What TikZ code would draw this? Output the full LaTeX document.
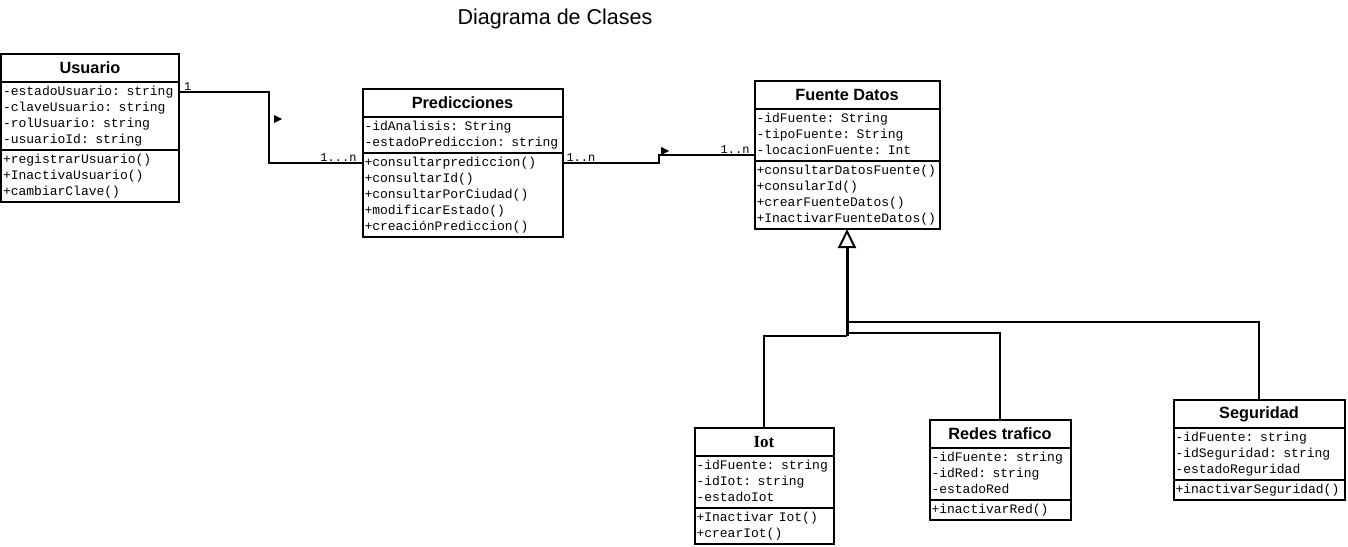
\documentclass[tikz,border=0pt]{standalone}
\usepackage{fontspec}
\setmainfont{Liberation Sans}
\newfontfamily\memberfont{Liberation Mono}
\newfontfamily\serifhead{Liberation Serif}
\usetikzlibrary{positioning,arrows.meta}

\begin{document}
\begin{tikzpicture}[
        x=1pt, y=-1pt,
        head/.style={rectangle, draw, line width=2pt, outer sep=0pt, inner sep=0pt, minimum height=28, font=\fontsize{16.3}{18}\selectfont\bfseries},
        members/.style={rectangle, draw, line width=2pt, outer sep=0pt, inner xsep=2pt, inner ysep=2pt, text width=#1, align=left, font=\memberfont\fontsize{13}{16}\selectfont, execute at begin node=\strut, execute at end node=\strut},
        assoc/.style={line width=2pt},
        gen/.style={line width=2pt},
        mult/.style={font=\memberfont\fontsize{12}{14}\selectfont, inner sep=1pt}
    ]

        \useasboundingbox (0,0) rectangle (1348,546);

        \node[anchor=base, font=\fontsize{21.5}{24}\selectfont] (title) at (555,24) {Diagrama de Clases};

        % Usuario
        \node[head, minimum width=178] (usuario) at (90,68) {Usuario};
        \node[members=174, below=0pt of usuario] (usuario_attr) {-estadoUsuario: string\\-claveUsuario: string\\-rolUsuario: string\\-usuarioId: string};
        \node[members=174, below=0pt of usuario_attr] (usuario_ops) {+registrarUsuario()\\+InactivaUsuario()\\+cambiarClave()};

        % Predicciones
        \node[head, minimum width=200] (pred) at (462.5,103) {Predicciones};
        \node[members=196, below=0pt of pred] (pred_attr) {-idAnalisis: String\\-estadoPrediccion: string};
        \node[members=196, below=0pt of pred_attr] (pred_ops) {+consultarprediccion()\\+consultarId()\\+consultarPorCiudad()\\+modificarEstado()\\+creaciónPrediccion()};

        % Fuente Datos
        \node[head, minimum width=185] (fuente) at (847,95) {Fuente Datos};
        \node[members=181, below=0pt of fuente] (fuente_attr) {-idFuente: String\\-tipoFuente: String\\-locacionFuente: Int};
        \node[members=181, below=0pt of fuente_attr] (fuente_ops) {+consultarDatosFuente()\\+consularId()\\+crearFuenteDatos()\\+InactivarFuenteDatos()};

        % Iot
        \node[head, minimum width=139, font=\serifhead\fontsize{17}{18}\selectfont\bfseries] (iot) at (764,442) {Iot};
        \node[members=135, below=0pt of iot] (iot_attr) {-idFuente: string\\-idIot: string\\-estadoIot};
        \node[members=135, below=0pt of iot_attr] (iot_ops) {+Inactivar Iot()\\+crearIot()};

        % Redes trafico
        \node[head, minimum width=141] (redes) at (1000,434) {Redes trafico};
        \node[members=137, below=0pt of redes] (redes_attr) {-idFuente: string\\-idRed: string\\-estadoRed};
        \node[members=137, below=0pt of redes_attr] (redes_ops) {+inactivarRed()};

        % Seguridad
        \node[head, minimum width=171] (seguridad) at (1259,414) {Seguridad};
        \node[members=167, below=0pt of seguridad] (seguridad_attr) {-idFuente: string\\-idSeguridad: string\\-estadoReguridad};
        \node[members=167, below=0pt of seguridad_attr] (seguridad_ops) {+inactivarSeguridad()};

        % associations
        \draw[assoc] ([yshift=-10]usuario_attr.north east) node[mult, anchor=south west, xshift=3] (mult_usuario) {1}
            -- ++(90,0) |- ([yshift=-10]pred_ops.north west) node[mult, anchor=south east, xshift=-4] (mult_pred_in) {1...n};
        \fill (274,115) -- (282,119) -- (274,123) -- cycle;

        \draw[assoc] ([yshift=-10]pred_ops.north east) node[mult, anchor=south west, xshift=2] (mult_pred_out) {1..n}
            -- ++(96,0) |- ([yshift=-46]fuente_attr.north west) node[mult, anchor=south east, xshift=-3] (mult_fuente) {1..n};
        \fill (661,147) -- (669,151) -- (661,155) -- cycle;

        % generalization
        \coordinate (gen_hub) at ([yshift=-107]fuente_ops.south);
        \draw[gen, line width=3pt, -{Triangle[open, length=19pt, width=18pt, line width=2pt]}] (gen_hub) -- (fuente_ops.south);
        \draw[gen] (iot.north) |- (gen_hub);
        \draw[gen] (redes.north) |- ([yshift=-104]fuente_ops.south);
        \draw[gen] (seguridad.north) |- ([yshift=-93]fuente_ops.south);

    \end{tikzpicture}
\end{document}
